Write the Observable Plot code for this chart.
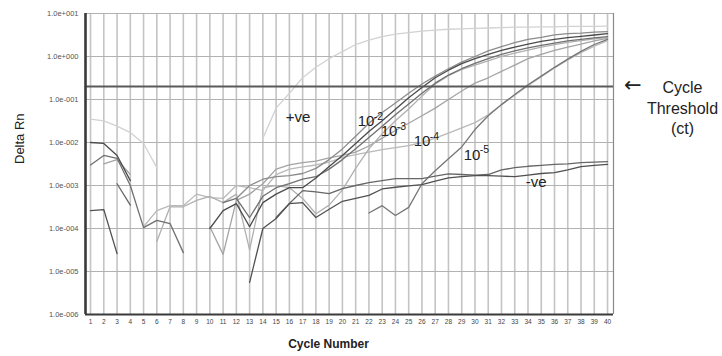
<!DOCTYPE html>
<html><head><meta charset="utf-8">
<script src="https://cdn.jsdelivr.net/npm/d3@7"></script>
<script src="https://cdn.jsdelivr.net/npm/@observablehq/plot@0.6"></script>
<style>
html,body{margin:0;padding:0;background:#fff;}
#chart svg{display:block;}
#chart [aria-label="y-axis tick label"]{fill:#555;}
#chart [aria-label="x-axis tick label"]{fill:#444;}
</style></head><body><div id="chart"></div>
<script>
// Cycle numbers (x categories / tick labels)
const cycles = [1,2,3,4,5,6,7,8,9,10,11,12,13,14,15,16,17,18,19,20,21,22,23,24,25,26,27,28,29,30,31,32,33,34,35,36,37,38,39,40];
// Y tick values (Delta Rn, log scale)
const yTicks = [1e-6,1e-5,1e-4,1e-3,1e-2,1e-1,1,10];
const threshold = 0.2;

// Delta Rn per cycle (null = not plotted)
const positive = [3.5e-2,3.2e-2,2.4e-2,1.7e-2,9.5e-3,2.6e-3,null,null,null,null,null,null,null,1.26e-2,6.3e-2,0.14,0.32,0.56,0.89,1.3,1.9,2.4,2.9,3.3,3.6,3.9,4.1,4.3,4.4,4.5,4.6,4.7,4.8,4.8,4.9,4.9,5.0,5.0,5.0,5.1];
const dil4slow = [null,null,null,null,1.1e-4,2.6e-4,3.4e-4,3.4e-4,6.3e-4,5.2e-4,5.0e-4,1.0e-3,8.9e-4,7.6e-4,1.8e-3,2.4e-3,2.7e-3,3.0e-3,3.5e-3,4.5e-3,5.2e-3,6.0e-3,6.8e-3,7.6e-3,8.5e-3,1.0e-2,1.26e-2,1.66e-2,2.2e-2,2.9e-2,4.4e-2,7.6e-2,0.126,0.21,0.34,0.54,0.83,1.23,1.74,2.34];
const dil4 = [null,3.2e-3,4.0e-3,1.8e-3,null,null,null,null,null,1.1e-4,2.5e-5,4.5e-4,6.3e-4,1.1e-3,2.4e-3,3.0e-3,3.4e-3,3.7e-3,4.4e-3,5.0e-3,6.0e-3,8.3e-3,1.26e-2,1.9e-2,2.8e-2,4.2e-2,6.3e-2,0.1,0.158,0.24,0.32,0.45,0.63,0.89,1.12,1.38,1.66,1.95,2.3,2.63];
const dil3b = [null,null,null,null,null,5.0e-5,3.2e-4,3.2e-4,4.5e-4,5.6e-4,4.0e-4,6.3e-4,3.2e-5,8.9e-4,1.0e-3,8.9e-4,5.0e-4,2.2e-4,3.5e-4,7.9e-4,2.5e-3,7.1e-3,1.6e-2,3.2e-2,6.0e-2,0.12,0.23,0.36,0.5,0.63,0.79,1.0,1.2,1.41,1.66,1.9,2.14,2.34,2.57,2.75];
const dil2b = [null,null,null,null,null,null,null,null,null,null,null,5.0e-4,1.0e-3,1.4e-3,1.6e-3,1.7e-3,1.9e-3,2.5e-3,4.0e-3,7.1e-3,1.4e-2,2.8e-2,5.0e-2,8.3e-2,0.14,0.23,0.35,0.52,0.74,1.0,1.35,1.7,2.1,2.5,2.8,3.2,3.4,3.5,3.7,3.8];
const dil3a = [3.0e-3,5.0e-3,4.3e-3,1.0e-3,1.05e-4,1.55e-4,1.3e-4,2.75e-5,null,null,4.0e-4,5.0e-4,1.8e-4,5.6e-4,8.9e-4,1.1e-3,1.4e-3,1.6e-3,2.4e-3,4.0e-3,7.2e-3,1.3e-2,2.4e-2,4.4e-2,7.9e-2,0.14,0.24,0.37,0.52,0.69,0.89,1.12,1.35,1.58,1.82,2.04,2.3,2.5,2.7,2.9];
const dil5 = [null,null,null,null,null,null,null,null,null,null,null,null,null,null,null,null,null,null,null,null,null,2.3e-4,3.4e-4,2.0e-4,3.1e-4,1.1e-3,2.2e-3,4.2e-3,7.9e-3,2.0e-2,4.2e-2,7.6e-2,0.13,0.22,0.35,0.56,0.87,1.32,1.9,2.5];
const negative2 = [null,null,1.1e-3,3.5e-4,null,null,null,null,null,null,null,null,null,null,1.8e-4,3.8e-4,7.6e-4,7.1e-4,6.5e-4,8.5e-4,1.0e-3,1.17e-3,1.3e-3,1.45e-3,1.45e-3,1.45e-3,1.66e-3,1.86e-3,1.8e-3,1.74e-3,1.8e-3,2.3e-3,2.6e-3,2.8e-3,2.95e-3,3.1e-3,3.2e-3,3.4e-3,3.5e-3,3.6e-3];
const negative1 = [2.6e-4,2.75e-4,2.6e-5,null,null,null,null,null,null,null,null,null,5.6e-6,1.0e-4,1.7e-4,3.8e-4,4.0e-4,1.8e-4,2.8e-4,4.3e-4,5.0e-4,5.9e-4,8.3e-4,9.1e-4,9.8e-4,1.05e-3,1.26e-3,1.5e-3,1.6e-3,1.7e-3,1.7e-3,1.66e-3,1.6e-3,1.74e-3,1.9e-3,2.0e-3,2.3e-3,2.75e-3,2.95e-3,3.1e-3];
const dil2a = [1.0e-2,9.5e-3,5.0e-3,1.3e-3,null,null,null,null,null,1.0e-4,2.6e-4,3.8e-4,1.1e-4,4.0e-4,6.3e-4,8.9e-4,8.9e-4,1.5e-3,2.75e-3,5.0e-3,9.5e-3,1.8e-2,3.2e-2,5.9e-2,0.11,0.19,0.32,0.48,0.68,0.89,1.12,1.38,1.66,1.95,2.24,2.5,2.75,2.95,3.16,3.4];

// Annotation labels
const labelTexts = ["+ve","10","10","10","10","-ve"];
const labelExps = ["","-2","-3","-4","-5",""];
const labelCycles = [15.72,21.15,22.89,25.38,29.15,33.83];
const labelValues = [3.8e-2,3.1e-2,1.8e-2,1.05e-2,5.2e-3,1.2e-3];

// Styling (draw order: light to dark)
const seriesList = [positive, dil4slow, dil4, dil3b, dil2b, dil3a, dil5, negative2, negative1, dil2a];
const seriesColors = ["#d2d2d2","#b9b9b9","#a4a4a4","#b0b0b0","#8c8c8c","#707070","#767676","#666666","#505050","#4a4a4a"];

const xDomain = [0.62, 40.45];
const fmt = d => { const e = Math.round(Math.log10(d)); return "1.0e" + (e < 0 ? "-" : "+") + String(Math.abs(e)).padStart(3, "0"); };

const lineMarks = seriesList.map((arr, k) =>
  Plot.line(cycles.map((c, i) => ({c, v: arr[i] == null ? NaN : arr[i]})),
    {x: "c", y: "v", stroke: seriesColors[k], strokeWidth: 1.3}));

const labelRows = labelTexts.map((t, i) => ({t, e: labelExps[i], c: labelCycles[i], v: labelValues[i]}));

const plot = Plot.plot({
  width: 722, height: 356,
  marginLeft: 85, marginRight: 109, marginTop: 13, marginBottom: 42,
  style: {fontFamily: "'Liberation Sans', Arial, sans-serif", background: "#fff", color: "#222"},
  x: {domain: xDomain, axis: null},
  y: {type: "log", domain: [1e-6, 10], axis: null},
  marks: [
    Plot.ruleX(cycles, {stroke: "#c4c4c4", strokeWidth: 1.6}),
    Plot.ruleY(yTicks, {stroke: "#b2b2b2", strokeWidth: 1}),
    Plot.ruleX([xDomain[1]], {stroke: "#8a8a8a", strokeWidth: 1.2}),
    ...lineMarks,
    Plot.ruleY([threshold], {stroke: "#5a5a5a", strokeWidth: 2}),
    Plot.ruleX([xDomain[0]], {stroke: "#3a3a3a", strokeWidth: 2.6}),
    Plot.ruleY([yTicks[0]], {stroke: "#3a3a3a", strokeWidth: 2}),
    Plot.axisX(cycles, {tickSize: 0, tickPadding: 5, fontSize: 6.5, label: null}),
    Plot.axisY(yTicks, {tickSize: 0, tickPadding: 7, fontSize: 7.5, label: null, tickFormat: fmt}),
    Plot.text(labelRows, {x: "c", y: "v", text: "t", textAnchor: "start", fontSize: 15, fill: "#222"}),
    Plot.text(labelRows.filter(d => d.e), {x: "c", y: "v", text: "e", textAnchor: "start", fontSize: 10.5, dx: 16, dy: -5, fill: "#222"}),
    Plot.text([threshold], {y: d => d, text: () => "\u2190", frameAnchor: "right", dx: 28, dy: -1, fontSize: 21, fontFamily: "'DejaVu Sans', sans-serif", fill: "#222"}),
    Plot.text([threshold], {y: d => d, text: () => "Cycle\nThreshold\n(ct)", frameAnchor: "right", dx: 69, dy: 20.5, textAnchor: "middle", lineHeight: 1.28, fontSize: 16, fill: "#222"}),
    Plot.text(["Delta Rn"], {frameAnchor: "left", rotate: -90, dx: -66, fontSize: 13, fill: "#222"}),
    Plot.text(["Cycle Number"], {frameAnchor: "bottom", dy: 33, dx: -21, fontSize: 12, fontWeight: "bold", fill: "#222"})
  ]
});
document.getElementById("chart").appendChild(plot);
</script></body></html>
